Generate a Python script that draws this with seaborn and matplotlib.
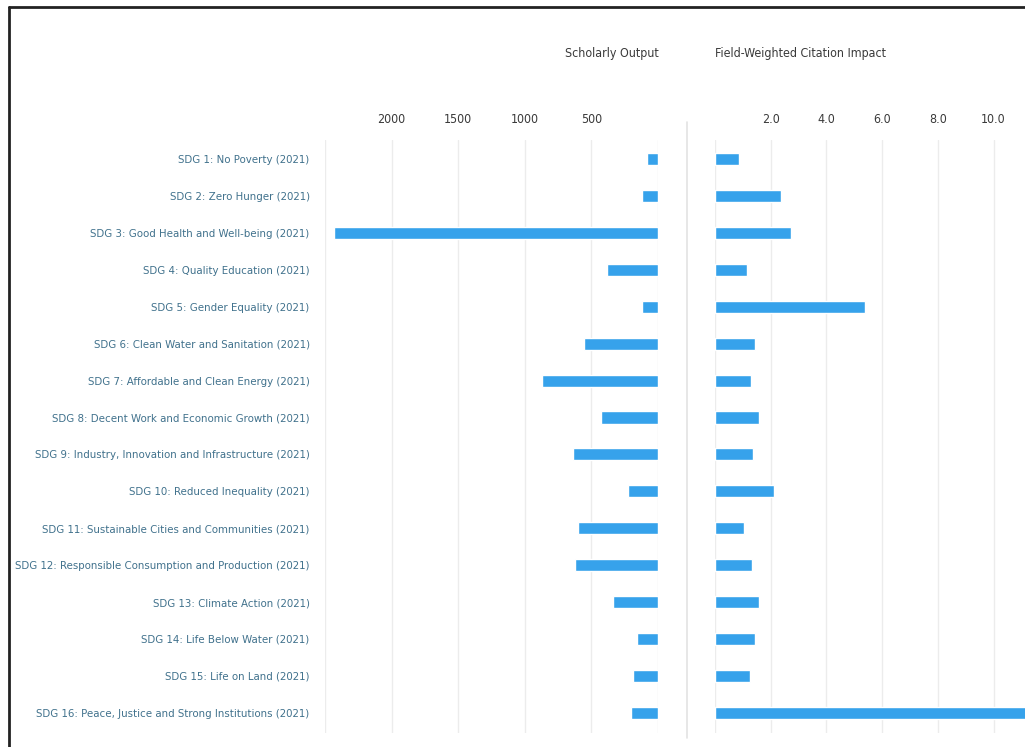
# SDG scholarly output vs field-weighted citation impact (2021)

import numpy as np
import pandas as pd
import seaborn as sns
import matplotlib.pyplot as plt
from matplotlib.lines import Line2D
from matplotlib import font_manager

# chart values
sdg_labels = [
    "SDG 1: No Poverty (2021)",
    "SDG 2: Zero Hunger (2021)",
    "SDG 3: Good Health and Well-being (2021)",
    "SDG 4: Quality Education (2021)",
    "SDG 5: Gender Equality (2021)",
    "SDG 6: Clean Water and Sanitation (2021)",
    "SDG 7: Affordable and Clean Energy (2021)",
    "SDG 8: Decent Work and Economic Growth (2021)",
    "SDG 9: Industry, Innovation and Infrastructure (2021)",
    "SDG 10: Reduced Inequality (2021)",
    "SDG 11: Sustainable Cities and Communities (2021)",
    "SDG 12: Responsible Consumption and Production (2021)",
    "SDG 13: Climate Action (2021)",
    "SDG 14: Life Below Water (2021)",
    "SDG 15: Life on Land (2021)",
    "SDG 16: Peace, Justice and Strong Institutions (2021)",
]
scholarly_output = [85, 122, 2434, 380, 122, 555, 872, 430,
                    635, 223, 602, 622, 335, 160, 185, 205]
fwci = [0.85, 2.37, 2.72, 1.14, 5.39, 1.42, 1.29, 1.57,
        1.35, 2.12, 1.03, 1.33, 1.57, 1.42, 1.25, 11.8]

output_ticks = [0, 500, 1000, 1500, 2000, 2500]
output_ticklabels = ["", "500", "1000", "1500", "2000", ""]
fwci_ticks = [0, 2, 4, 6, 8, 10]
fwci_ticklabels = ["", "2.0", "4.0", "6.0", "8.0", "10.0"]

df = pd.DataFrame({"SDG": sdg_labels, "Output": scholarly_output, "FWCI": fwci})

sns.set_style("white")
plt.rcParams["font.family"] = ["Roboto", "DejaVu Sans"]

# look for a narrow sans face, the reference text is condensed
font_path = None
for f in font_manager.fontManager.ttflist:
    if f.style != "normal" or f.weight not in (400, "normal", "regular"):
        continue
    if "Mono" in f.name or "Serif" in f.name:
        continue
    if f.stretch in ("condensed", "semi-condensed") or "Narrow" in f.name or "Condensed" in f.name:
        font_path = f.fname
        break
if font_path is None:
    font_path = font_manager.findfont("Roboto")


def fp(size):
    return font_manager.FontProperties(fname=font_path, size=size)


bar_color = "#36a2eb"
grid_color = "#ececec"
tick_color = "#3a3a3a"
label_color = "#40718c"

W, H = 1025, 747
fig = plt.figure(figsize=(W / 100, H / 100), dpi=100)

ax_top, ax_bottom = 140, 733
ax_h = (ax_bottom - ax_top) / H
ax1 = fig.add_axes([325 / W, (H - ax_bottom) / H, (658 - 325) / W, ax_h])
ax2 = fig.add_axes([715 / W, (H - ax_bottom) / H, (W - 715) / W, ax_h])

# left panel: scholarly output, bars grow to the left
sns.barplot(data=df, x="Output", y="SDG", orient="h", color=bar_color,
            saturation=1, width=0.33, ax=ax1)
ax1.set_xlim(2500, 0)

# right panel: field-weighted citation impact
sns.barplot(data=df, x="FWCI", y="SDG", orient="h", color=bar_color,
            saturation=1, width=0.33, ax=ax2)
ax2.set_xlim(0, 11.13)
ax2.set_yticks([])

for ax in (ax1, ax2):
    ax.set_ylim(15.55, -0.52)
    ax.set_xlabel("")
    ax.set_ylabel("")
    ax.xaxis.tick_top()
    ax.tick_params(axis="x", length=0, pad=10, labelcolor=tick_color)
    ax.grid(axis="x", color=grid_color, linewidth=1)
    ax.set_axisbelow(True)
    for s in ax.spines.values():
        s.set_visible(False)
ax1.tick_params(axis="y", length=0, pad=11, labelcolor=label_color)

renderer = fig.canvas.get_renderer()


def fitted_size(texts, target_px, size=11.0):
    # font size that makes the widest text about target_px wide
    widths = []
    for s in texts:
        t = fig.text(0, 0, s, fontproperties=fp(size))
        widths.append(t.get_window_extent(renderer).width)
        t.remove()
    return min(size * target_px / max(widths), 13.0)


label_size = fitted_size(sdg_labels, 296)
tick_size = fitted_size(["2000"], 28)
title_size = fitted_size(["Field-Weighted Citation Impact"], 172)

ax1.set_yticks(range(len(sdg_labels)))
ax1.set_yticklabels(sdg_labels, fontproperties=fp(label_size), color=label_color)
ax1.set_xticks(output_ticks)
ax1.set_xticklabels(output_ticklabels, fontproperties=fp(tick_size), color=tick_color)
ax2.set_xticks(fwci_ticks)
ax2.set_xticklabels(fwci_ticklabels, fontproperties=fp(tick_size), color=tick_color)

# panel titles
fig.text(659 / W, 1 - 53 / H, "Scholarly Output", ha="right", va="center",
         fontproperties=fp(title_size), color=tick_color)
fig.text(715 / W, 1 - 53 / H, "Field-Weighted Citation Impact", ha="left",
         va="center", fontproperties=fp(title_size), color=tick_color)

# divider between the two panels
fig.add_artist(Line2D([687 / W, 687 / W], [(H - 738) / H, (H - 122) / H],
                      color="#e3e3e3", linewidth=1.2))

# screenshot frame (top and left edges)
fig.add_artist(Line2D([9 / W, 1], [1 - 7 / H, 1 - 7 / H], color="#222222", linewidth=2))
fig.add_artist(Line2D([9 / W, 9 / W], [0, 1 - 7 / H], color="#222222", linewidth=2))

fig.savefig("out.png", dpi=100, facecolor="white")
